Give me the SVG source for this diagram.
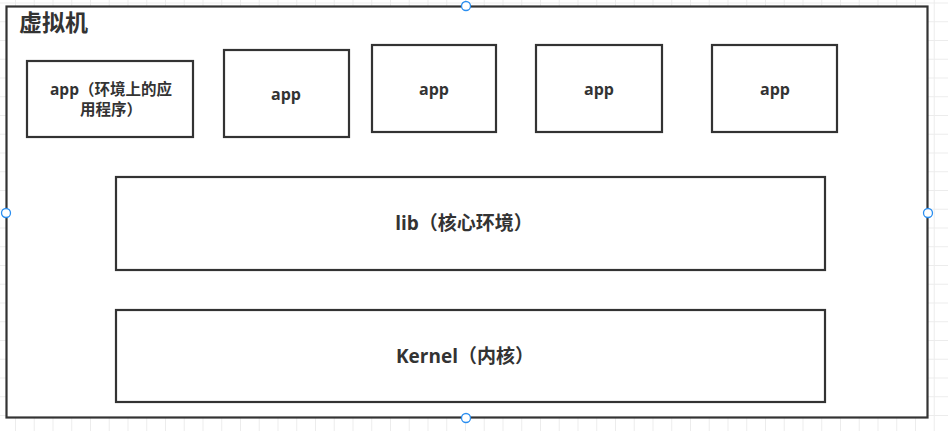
<svg xmlns="http://www.w3.org/2000/svg" width="948" height="431" viewBox="0 0 948 431">
<defs>
<pattern id="grid" x="15" y="2.5" width="18.75" height="18.75" patternUnits="userSpaceOnUse">
<path d="M0 0.5 H18.75 M0.5 0 V18.75" fill="none" stroke="#ececec" stroke-width="1"/>
</pattern>
<style>
.box{fill:#fff;stroke:#333;stroke-width:2.2}
.t{font-family:"Open Sans","Noto Sans CJK SC",sans-serif;font-weight:bold;fill:#333;text-anchor:middle}
.s{font-size:16px}
.w{font-size:15.5px}
.l{font-size:19px}
.h{fill:#fff;stroke:#2a8ef0;stroke-width:1.3}
</style>
</defs>
<rect width="948" height="431" fill="#fff"/>
<rect width="948" height="431" fill="url(#grid)"/>
<g id="vm">
<rect class="box" x="6.5" y="6.5" width="921" height="411"/>
<text x="19" y="31" style="font-family:'Open Sans','Noto Sans CJK SC',sans-serif;font-weight:bold;font-size:23px;fill:#333">虚拟机</text>
</g>
<g id="app1">
<rect class="box" x="27" y="61" width="166" height="76"/>
<text class="t w" x="111" y="95">app（环境上的应</text>
<text class="t w" x="111" y="115">用程序）</text>
</g>
<g id="app2">
<rect class="box" x="224" y="50" width="125" height="87"/>
<text class="t s" x="286" y="100">app</text>
</g>
<g id="app3">
<rect class="box" x="372" y="45" width="124" height="87"/>
<text class="t s" x="434" y="95">app</text>
</g>
<g id="app4">
<rect class="box" x="536" y="45" width="126" height="87"/>
<text class="t s" x="599" y="95">app</text>
</g>
<g id="app5">
<rect class="box" x="712" y="45" width="125" height="87"/>
<text class="t s" x="775" y="95">app</text>
</g>
<g id="lib">
<rect class="box" x="116" y="177" width="709" height="93"/>
<text class="t l" x="464" y="230">lib（核心环境）</text>
</g>
<g id="kernel">
<rect class="box" x="116" y="310" width="709" height="92"/>
<text class="t l" x="465" y="363">Kernel（内核）</text>
</g>
<g id="connectors"></g>
<g id="handles">
<circle class="h" cx="466" cy="6" r="4.5"/>
<circle class="h" cx="6" cy="213" r="4.5"/>
<circle class="h" cx="928" cy="213" r="4.5"/>
<circle class="h" cx="466" cy="418" r="4.5"/>
</g>
</svg>
